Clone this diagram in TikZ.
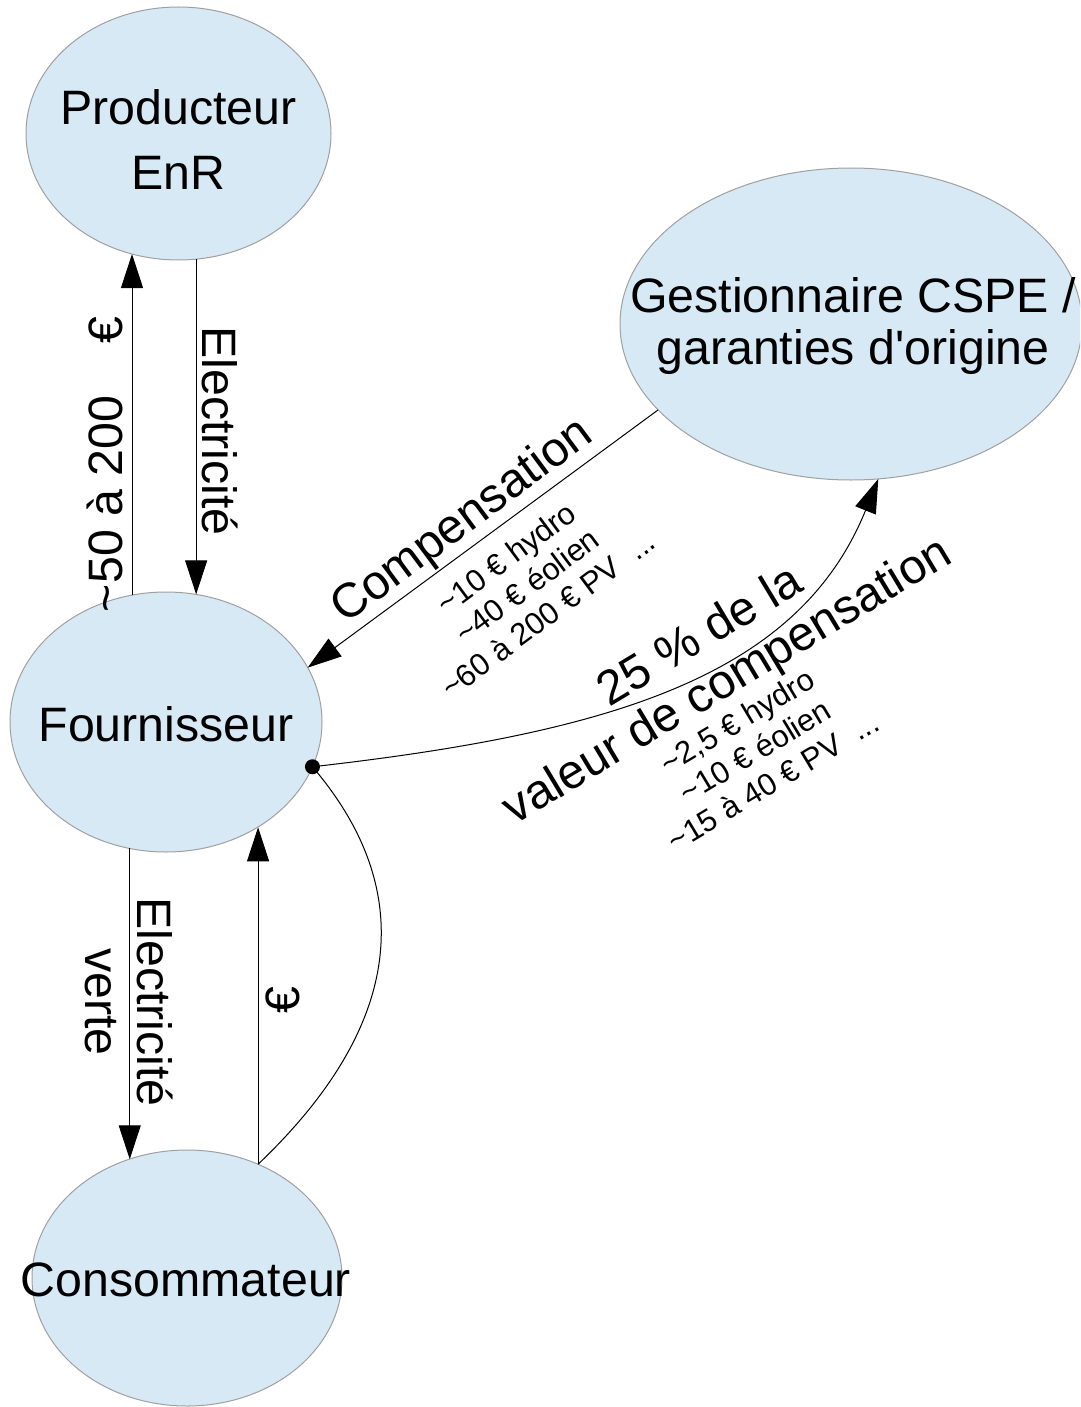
\documentclass[tikz,border=0pt]{standalone}
\usepackage{fontspec}
\setmainfont{Liberation Sans}
\usetikzlibrary{shapes.geometric,arrows.meta}
\definecolor{ellfill}{RGB}{215,233,245}
\definecolor{ellline}{RGB}{160,160,160}
\newcommand\tld{\textasciitilde}
\begin{document}
\begin{tikzpicture}[x=1pt,y=-1pt,
  ell/.style={ellipse, draw=ellline, line width=1pt, fill=ellfill, inner sep=0pt, outer sep=0pt},
  big/.style={font=\fontsize{48.3}{52}\selectfont, inner sep=0pt, align=center},
  small/.style={font=\fontsize{31}{35}\selectfont, inner sep=0pt, align=center},
  arr/.style={line width=1pt, -{Triangle[length=34pt,width=22pt]}},
  conn/.style={line width=1pt}]
\useasboundingbox (0,0) rectangle (1080,1407);
\clip (0,0) rectangle (1080,1407);
\fill[white] (0,0) rectangle (1080,1407);

% ellipses
\node[ell, minimum width=305pt, minimum height=253pt] (prod) at (178.5,133.5) {};
\node[ell, minimum width=312pt, minimum height=260pt] (four) at (166,722) {};
\node[ell, minimum width=462pt, minimum height=312pt] (gest) at (851,324) {};
\node[ell, minimum width=310pt, minimum height=256pt] (cons) at (187,1278) {};

% node texts
\node[big, font=\fontsize{48.3}{65}\selectfont] (tprod) at (178.5,140) {Producteur\\EnR};
\node[big] (tfour) at (166,724) {Fournisseur};
\node[big] (tgest) at (853,326.5) {Gestionnaire CSPE /\\garanties d\textquotesingle origine};
\node[big] (tcons) at (186,1280) {Consommateur};

% connectors
\draw[arr] (four.105.8) -- (four.105.8 |- prod.-111.6);
\draw[arr] (prod.-82.5) -- (prod.-82.5 |- four.77.2);
\draw[arr] (gest.-156.1) -- (four.21);
\draw[arr] (four.-17.7) .. controls (610,733) and (798,677) .. (gest.-80);
\draw[conn] (four.-17.7) .. controls (405,875) and (420,1010) .. (cons.58.7);
\draw[arr] (four.-106.8) -- (four.-106.8 |- cons.116);
\draw[arr] (cons.58.7) -- (cons.58.7 |- four.-49.4);
\fill (four.-17.7) circle[radius=7.5pt];

% labels
\node[big, rotate=90] (l50) at (105,464.5) {\tld50 à 200\hspace{52pt}€};
\node[big, rotate=-90] (lel1) at (220,431) {Electricité};
\node[big, rotate=-90] (lel2) at (129.5,1002) {Electricité\\verte};
\node[big, rotate=90] (leur) at (282.5,1000) {€};
\node[big, rotate=36.6] (lcomp) at (463,522) {Compensation};
\node[small, rotate=36.6] (lcompv) at (527,586) {\tld10 € hydro\\\tld40 € éolien\\\tld60 à 200 € PV\ \ ...};
\node[big, rotate=31] (lpct) at (714.6,660.3) {25 \% de la\\valeur de compensation};
\node[small, rotate=31] (lpctv) at (755,751) {\tld2,5 € hydro\\\tld10 € éolien\\\tld15 à 40 € PV\ \ ...};
\end{tikzpicture}
\end{document}
